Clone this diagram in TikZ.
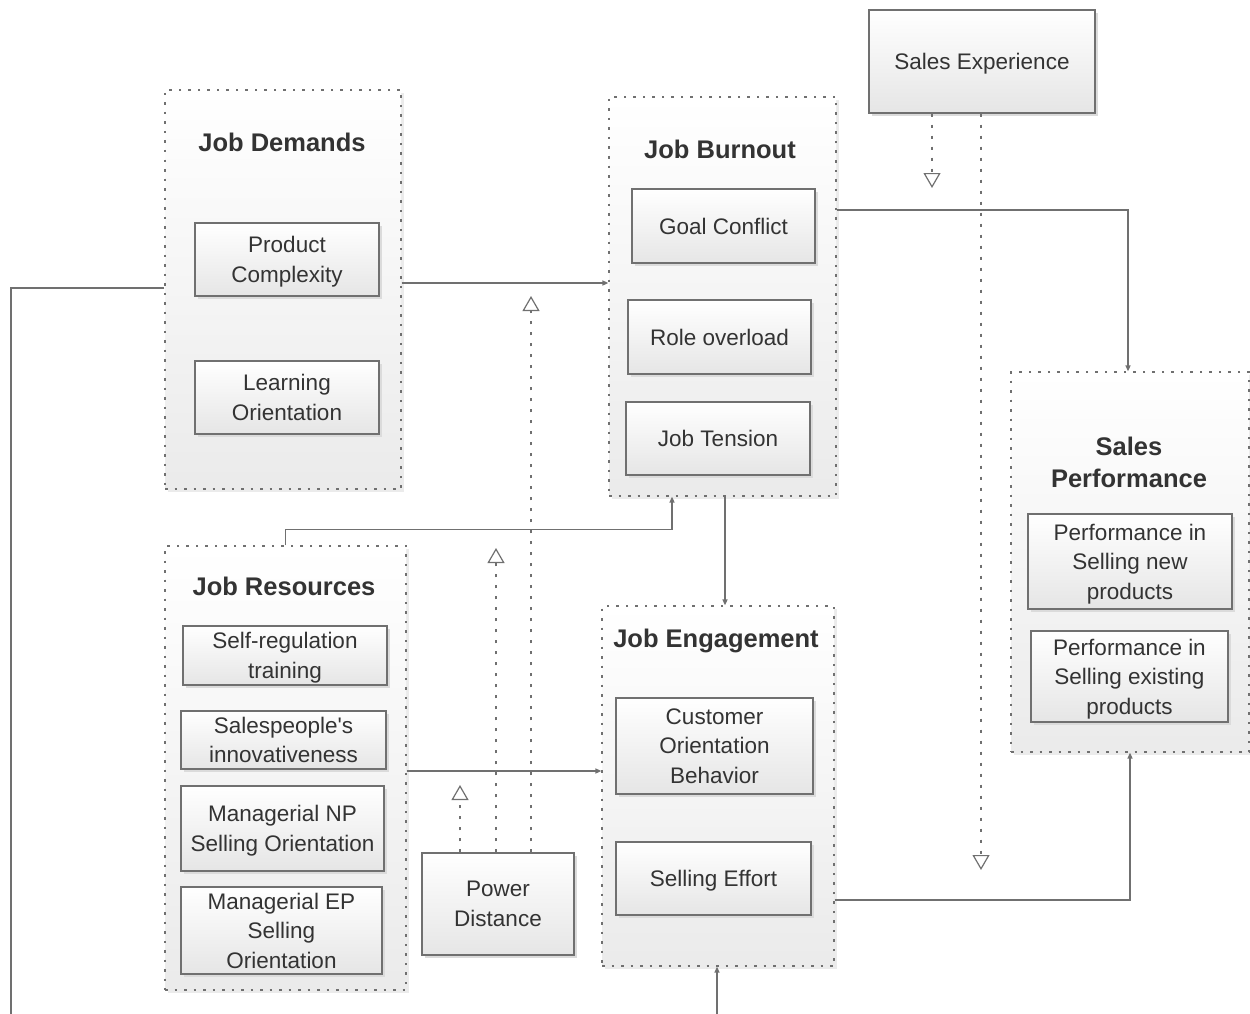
\documentclass[tikz,border=0pt]{standalone}
\usepackage{fontspec}
\setmainfont{Liberation Sans}
\usetikzlibrary{arrows.meta,shadows}
\definecolor{txt}{HTML}{333333}
\definecolor{ln}{HTML}{707070}
\begin{document}
\begin{tikzpicture}[x=1pt,y=-1pt,
  group/.style={draw=ln, line width=1.2pt, dash pattern=on 2.5pt off 7pt,
    top color=white, bottom color=black!8, inner sep=0pt,
    drop shadow={shadow xshift=3pt,shadow yshift=-3pt,fill=black!8,opacity=1}},
  box/.style={draw=ln, line width=1.3pt, top color=white, bottom color=black!10,
    drop shadow={shadow xshift=3pt,shadow yshift=-3pt,fill=black!14,opacity=1},
    align=center, text=txt, font=\fontsize{22.5}{29.5}\selectfont, inner sep=0pt,
    text depth=0pt},
  ttl/.style={font=\fontsize{25.5}{32}\selectfont\bfseries, text=txt, align=center},
  conn/.style={draw=ln, line width=1.4pt},
  arr/.style={conn, -{Triangle[length=6pt,width=5pt]}},
  modr/.style={draw=ln, line width=1.2pt, dash pattern=on 3pt off 8pt,
    -{Triangle[open,length=15pt,width=17pt,line width=1.2pt]}}
]
\useasboundingbox (0,0) rectangle (1250,1014);

% groups
\node[group, minimum width=236, minimum height=399] (jd) at (283,289.5) {};
\node[group, minimum width=227, minimum height=399] (jb) at (722.5,296.5) {};
\node[group, minimum width=238, minimum height=380] (sp) at (1130,562) {};
\node[group, minimum width=241, minimum height=444] (jr) at (285.5,768) {};
\node[group, minimum width=232, minimum height=360] (je) at (718,786) {};

% titles
\node[ttl, anchor=base] (jdt) at (282,151) {Job Demands};
\node[ttl, anchor=base] (jbt) at (720,158) {Job Burnout};
\node[ttl, anchor=base] (jrt) at (284,595) {Job Resources};
\node[ttl, anchor=base] (jet) at (716,647) {Job Engagement};
\node[ttl] (spt) at (1129,462) {Sales\\Performance};

% boxes
\node[box, minimum width=226, minimum height=103] (se) at (982,61.5) {Sales Experience};
\node[box, minimum width=152, minimum height=102] (pd) at (498,904) {Power\\Distance};

\node[box, minimum width=184, minimum height=73] (pc) at (287,259.5) {Product\\Complexity};
\node[box, minimum width=184, minimum height=73] (lo) at (287,397.5) {Learning\\Orientation};

\node[box, minimum width=183, minimum height=74] (gc) at (723.5,226) {Goal Conflict};
\node[box, minimum width=183, minimum height=74] (ro) at (719.5,337) {Role overload};
\node[box, minimum width=184, minimum height=73] (jt) at (718,438.5) {Job Tension};

\node[box, minimum width=204, minimum height=95] (pn) at (1130,561.5) {Performance in\\Selling new\\products};
\node[box, minimum width=197, minimum height=91] (pe) at (1129.5,676.5) {Performance in\\Selling existing\\products};

\node[box, minimum width=204, minimum height=59] (srt) at (285,655.5) {Self-regulation\\training};
\node[box, minimum width=205, minimum height=58] (si) at (283.5,740) {Salespeople\textquotesingle s\\innovativeness};
\node[box, minimum width=203, minimum height=85] (mnp) at (282.5,828.5) {Managerial NP\\Selling Orientation};
\node[box, minimum width=201, minimum height=87] (mep) at (281.5,930.5) {Managerial EP\\Selling\\Orientation};

\node[box, minimum width=197, minimum height=96] (cob) at (714.5,746) {Customer\\Orientation\\Behavior};
\node[box, minimum width=195, minimum height=73] (sef) at (713.5,878.5) {Selling Effort};

% free ends
\coordinate (bl) at (11,1014);
\coordinate (bm) at (717,1014);
\coordinate (m1) at (932,188);
\coordinate (m2) at (981,870);
\coordinate (m3) at (460,785);
\coordinate (m4) at (496,548);
\coordinate (m5) at (531,296);

% connectors
\draw[conn] ([yshift=1.5pt]jd.west) -| (bl);
\draw[arr] ([yshift=6.5pt]jd.east) -- ([yshift=13.5pt]jb.west);
\draw[arr] ([yshift=86.5pt]jb.east) -| ([xshift=-2pt]sp.north);
\draw[arr] (jr.north) -- ++(0,-16) -| ([xshift=-50.5pt]jb.south);
\draw[arr] ([xshift=2.5pt]jb.south) -- ([xshift=7pt]je.north);
\draw[arr] ([yshift=-3pt]jr.east) -- ([yshift=15pt]je.west);
\draw[arr] ([yshift=-114pt]je.east) -| (sp.south);
\draw[arr] (bm) -- ([xshift=-1pt]je.south);

% moderators
\draw[modr] ([xshift=-50pt]se.south) -- (m1);
\draw[modr] ([xshift=-1pt]se.south) -- (m2);
\draw[modr] ([xshift=-38pt]pd.north) -- (m3);
\draw[modr] ([xshift=-2pt]pd.north) -- (m4);
\draw[modr] ([xshift=33pt]pd.north) -- (m5);
\end{tikzpicture}
\end{document}
